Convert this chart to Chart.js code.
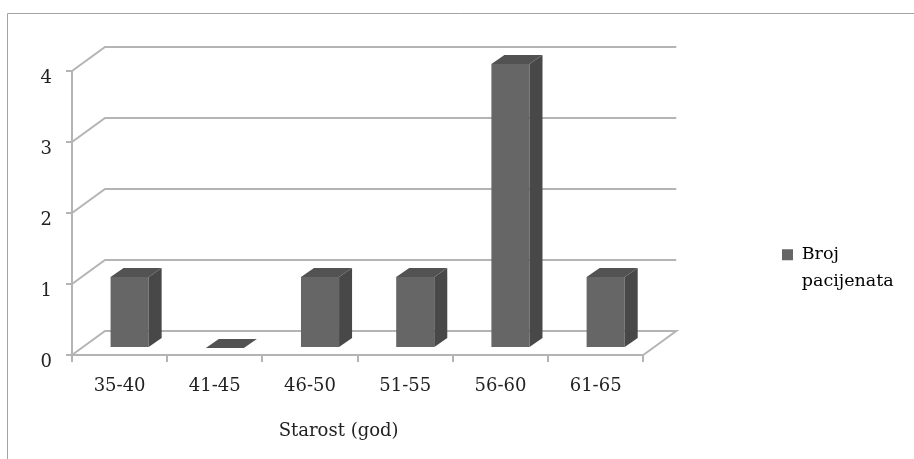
<!DOCTYPE html>
<html lang="sr">
<head>
    <meta charset="UTF-8">
    <title>Broj pacijenata po starosti</title>
    <script src="https://cdn.jsdelivr.net/npm/chart.js"></script>
    <style>
        html, body { margin: 0; padding: 0; background: #fff; }
        #wrap { width: 914px; height: 459px; }
    </style>
</head>
<body>
    <div id="wrap"><canvas id="ageChart" width="914" height="459"></canvas></div>

    <script>
        const ageGroups = ['35-40', '41-45', '46-50', '51-55', '56-60', '61-65'];
        const patientCounts = [1, 0, 1, 1, 4, 1];
        const seriesName = ['Broj', 'pacijenata'];
        const axisTitle = 'Starost (god)';

        const gridColor = '#b4b4b4';
        const faceColor = '#666666';
        const sideColor = '#484848';
        const topColor = '#525252';
        const textColor = '#222222';
        const fontFamily = '"DejaVu Serif", serif';

        // fake 3D: depth of the room and of the bars, in pixels
        const roomDepth = { x: 33, y: -24 };
        const barShift = { x: 10, y: -7 };
        const barDepth = { x: 13, y: -9 };

        const fake3d = {
            id: 'fake3d',
            afterLayout(chart) {
                // legend sits away from the plot, not against it
                const legend = chart.legend;
                const w = legend.width, h = legend.height;
                legend.left = 772;
                legend.right = legend.left + w;
                legend.top = 236;
                legend.bottom = legend.top + h;

                // labels and title sit slightly off their default place
                const yScale = chart.scales.y, xScale = chart.scales.x;
                const drawYLabels = yScale.drawLabels;
                yScale.drawLabels = function (area) {
                    chart.ctx.save();
                    chart.ctx.translate(0, 7);
                    drawYLabels.call(this, area);
                    chart.ctx.restore();
                };
                const drawXTitle = xScale.drawTitle;
                xScale.drawTitle = function (area) {
                    chart.ctx.save();
                    chart.ctx.translate(-19, 0);
                    drawXTitle.call(this, area);
                    chart.ctx.restore();
                };
            },
            beforeDraw(chart) {
                const ctx = chart.ctx;
                ctx.save();
                ctx.strokeStyle = '#a3a3a3';
                ctx.lineWidth = 1;
                ctx.beginPath();
                ctx.moveTo(7.5, chart.height);
                ctx.lineTo(7.5, 13.5);
                ctx.lineTo(chart.width, 13.5);
                ctx.stroke();
                ctx.restore();
            },
            beforeDatasetsDraw(chart) {
                const ctx = chart.ctx;
                const area = chart.chartArea;
                const yScale = chart.scales.y;
                ctx.save();
                ctx.strokeStyle = gridColor;
                ctx.lineWidth = 2;
                yScale.ticks.forEach(t => {
                    const y = yScale.getPixelForValue(t.value);
                    ctx.beginPath();
                    ctx.moveTo(area.left, y);
                    ctx.lineTo(area.left + roomDepth.x, y + roomDepth.y);
                    ctx.lineTo(area.right + roomDepth.x, y + roomDepth.y);
                    if (t.value === 0) ctx.lineTo(area.right, y);
                    ctx.stroke();
                });
                ctx.restore();
            },
            beforeDatasetDraw(chart) {
                chart.ctx.save();
                chart.ctx.translate(barShift.x, barShift.y);
            },
            afterDatasetDraw(chart, args) {
                const ctx = chart.ctx;
                args.meta.data.forEach(bar => {
                    const p = bar.getProps(['x', 'y', 'base', 'width'], true);
                    const l = p.x - p.width / 2, r = p.x + p.width / 2;
                    const dx = barDepth.x, dy = barDepth.y;
                    ctx.fillStyle = sideColor;
                    ctx.beginPath();
                    ctx.moveTo(r, p.base);
                    ctx.lineTo(r + dx, p.base + dy);
                    ctx.lineTo(r + dx, p.y + dy);
                    ctx.lineTo(r, p.y);
                    ctx.closePath();
                    ctx.fill();
                    ctx.fillStyle = topColor;
                    ctx.beginPath();
                    ctx.moveTo(l, p.y);
                    ctx.lineTo(l + dx, p.y + dy);
                    ctx.lineTo(r + dx, p.y + dy);
                    ctx.lineTo(r, p.y);
                    ctx.closePath();
                    ctx.fill();
                });
                ctx.restore();
            }
        };

        new Chart(document.getElementById('ageChart').getContext('2d'), {
            type: 'bar',
            data: {
                labels: ageGroups,
                datasets: [{
                    label: seriesName.join(' '),
                    data: patientCounts,
                    backgroundColor: faceColor,
                    borderWidth: 0,
                    barPercentage: 0.4,
                    categoryPercentage: 1
                }]
            },
            options: {
                responsive: false,
                animation: false,
                layout: { padding: { top: 71, right: 139, bottom: 0, left: 0 } },
                font: { family: fontFamily },
                plugins: {
                    tooltip: { enabled: false },
                    legend: {
                        position: 'right',
                        align: 'start',
                        labels: {
                            boxWidth: 11,
                            boxHeight: 11,
                            color: textColor,
                            font: { family: fontFamily, size: 17.5, lineHeight: 1.55 },
                            generateLabels: chart => [{
                                text: seriesName,
                                fillStyle: faceColor,
                                strokeStyle: faceColor,
                                lineWidth: 0,
                                datasetIndex: 0
                            }]
                        }
                    }
                },
                scales: {
                    x: {
                        afterFit: scale => { scale.height = 104; },
                        grid: { drawOnChartArea: false, color: gridColor, lineWidth: 2, tickLength: 7 },
                        border: { color: gridColor, width: 2 },
                        ticks: { color: textColor, padding: 14, maxRotation: 0, font: { family: fontFamily, size: 18 } },
                        title: {
                            display: true,
                            text: axisTitle,
                            color: textColor,
                            padding: { top: 10, bottom: 17 },
                            font: { family: fontFamily, size: 18 }
                        }
                    },
                    y: {
                        min: 0,
                        max: 4,
                        afterFit: scale => { scale.width = 72; },
                        grid: { drawOnChartArea: false, color: gridColor, lineWidth: 2, tickLength: 6 },
                        border: { color: gridColor, width: 2 },
                        ticks: { stepSize: 1, color: textColor, padding: 14, font: { family: fontFamily, size: 18 } }
                    }
                }
            },
            plugins: [fake3d]
        });
    </script>
</body>
</html>
